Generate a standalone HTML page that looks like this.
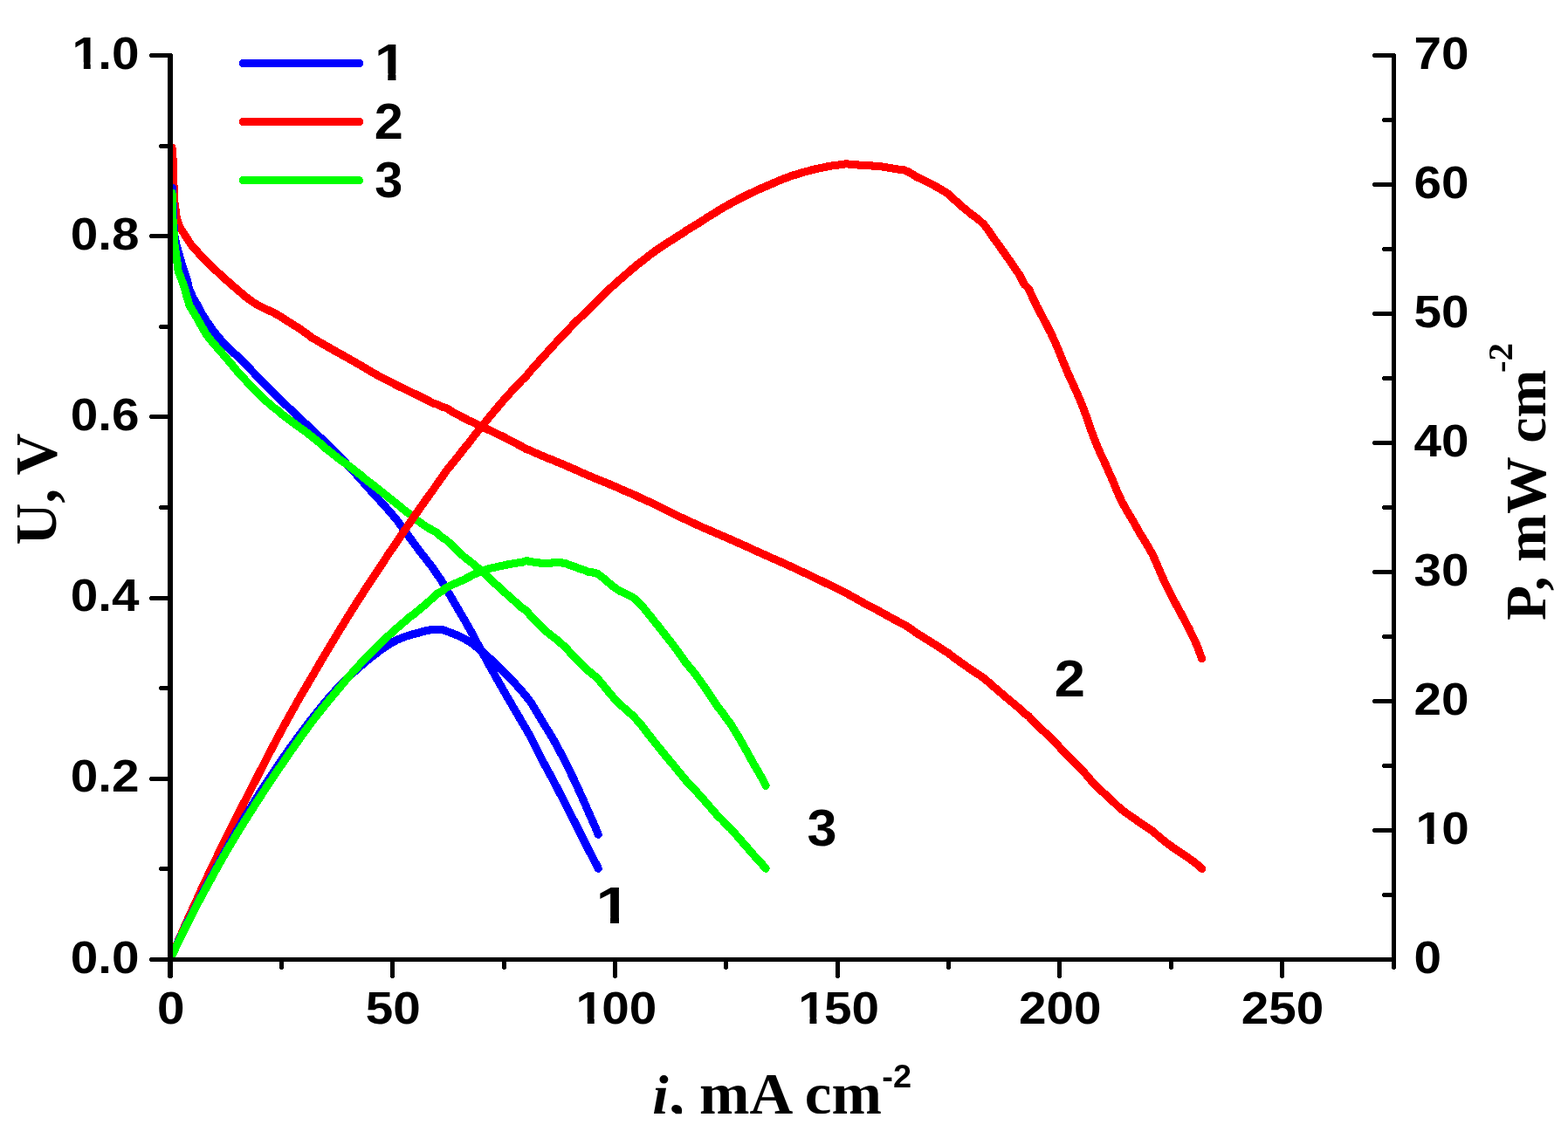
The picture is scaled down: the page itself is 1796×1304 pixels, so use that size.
<!DOCTYPE html>
<html lang="en"><head><meta charset="utf-8"><title>Polarization and power density curves</title>
<style>html,body{margin:0;padding:0;background:#fff;}body{width:1796px;height:1304px;overflow:hidden;}svg{display:block;}text{fill:#000;}</style>
</head><body>
<svg width="1796" height="1304" viewBox="0 0 1796 1304">
<defs>
<clipPath id="one"><path clip-rule="evenodd" d="M-10,-90 H400 V30 H-10 Z M-10,-14 H26.6 V8 H-10 Z M40.5,-14 H58 V8 H40.5 Z"/></clipPath>
<clipPath id="plot"><rect x="192.7" y="0" width="1403.1" height="1101.5"/></clipPath>
<clipPath id="xt"><rect x="700" y="1180" width="400" height="96.2"/></clipPath>
</defs>
<rect x="0" y="0" width="1796" height="1304" fill="#fff"/>
<g id="curves" clip-path="url(#plot)" fill="none" stroke-width="9.1" stroke-linecap="round" stroke-linejoin="round" shape-rendering="crispEdges">
<path stroke="#ff0000" d="M197.0,169.0 L198.0,182.0 L199.0,213.0 L199.7,230.4 L202.4,250.4 L206.0,260.5 L212.3,270.0 L218.6,280.0 L225.9,288.3 L230.9,293.8 L236.0,298.9 L241.1,304.0 L246.2,308.9 L251.3,313.7 L256.4,318.3 L261.5,322.9 L266.6,327.4 L271.7,331.8 L276.8,336.1 L281.9,340.4 L287.0,344.2 L292.0,347.7 L297.1,350.5 L302.2,353.2 L307.3,355.5 L312.4,357.7 L317.5,360.5 L322.6,363.6 L327.7,366.9 L332.8,370.1 L337.9,373.3 L343.0,376.6 L348.1,380.1 L353.2,383.8 L358.2,387.6 L363.3,390.3 L368.4,393.4 L373.5,396.3 L378.6,399.2 L383.7,402.1 L388.8,405.0 L393.9,407.8 L399.0,410.6 L404.1,413.6 L409.2,416.5 L414.3,419.4 L419.3,422.3 L424.4,425.5 L429.5,428.4 L434.6,431.3 L439.7,434.0 L444.8,436.3 L449.9,439.1 L455.0,441.7 L460.1,444.2 L465.2,446.7 L470.3,449.2 L475.4,451.5 L480.5,454.0 L485.5,456.5 L490.6,459.0 L495.7,461.9 L500.8,463.4 L505.9,466.0 L511.0,467.4 L516.1,470.6 L521.2,473.6 L526.3,476.3 L531.4,478.9 L536.5,481.6 L541.6,483.7 L546.6,486.3 L551.7,488.8 L556.8,491.2 L561.9,493.6 L567.0,496.0 L572.1,498.4 L577.2,500.8 L582.3,503.6 L587.4,506.1 L592.5,508.9 L597.6,511.5 L602.7,514.7 L607.8,516.4 L612.8,518.8 L617.9,521.0 L623.0,523.1 L628.1,525.3 L633.2,527.2 L638.3,529.5 L643.4,531.5 L648.5,533.7 L653.6,535.9 L658.7,538.1 L663.8,540.4 L668.9,542.7 L673.9,544.9 L679.0,547.0 L684.1,549.2 L689.2,551.2 L694.3,553.2 L699.4,555.4 L704.5,557.5 L709.6,559.7 L714.7,562.1 L719.8,564.2 L724.9,566.4 L730.0,568.7 L735.1,571.2 L740.1,573.5 L745.2,575.7 L750.3,578.2 L755.4,580.6 L760.5,583.2 L765.6,585.7 L770.7,588.3 L775.8,590.8 L780.9,593.3 L786.0,595.5 L791.1,597.9 L796.2,600.4 L801.2,602.7 L806.3,605.0 L811.4,607.1 L816.5,609.3 L821.6,611.5 L826.7,613.7 L831.8,615.9 L836.9,618.2 L842.0,620.4 L847.1,622.7 L852.2,625.0 L857.3,627.3 L862.4,629.6 L867.4,632.0 L872.5,634.3 L877.6,636.5 L882.7,638.8 L887.8,641.1 L892.9,643.3 L898.0,645.6 L903.1,647.9 L908.2,650.2 L913.3,652.7 L918.4,655.0 L923.5,657.4 L928.5,659.8 L933.6,662.3 L938.7,664.7 L943.8,667.2 L948.9,669.6 L954.0,672.1 L959.1,674.6 L964.2,677.2 L969.3,679.5 L974.4,682.6 L979.5,685.3 L984.6,688.3 L989.7,691.2 L994.7,693.7 L999.8,696.5 L1004.9,699.1 L1010.0,701.9 L1015.1,704.8 L1020.2,707.6 L1025.3,710.4 L1030.4,713.1 L1035.5,715.7 L1040.6,718.8 L1045.7,722.4 L1050.8,726.0 L1055.8,729.1 L1060.9,732.4 L1066.0,735.5 L1071.1,738.7 L1076.2,742.0 L1081.3,745.3 L1086.4,748.5 L1091.5,752.7 L1096.6,756.2 L1101.7,760.1 L1106.8,763.5 L1111.9,767.1 L1117.0,770.4 L1122.0,773.7 L1127.1,777.3 L1132.2,781.6 L1137.3,786.2 L1142.4,790.5 L1147.5,794.9 L1152.6,799.2 L1157.7,803.5 L1162.8,807.8 L1167.9,812.0 L1173.0,817.3 L1178.1,820.5 L1183.1,826.0 L1188.2,831.1 L1193.3,836.0 L1198.4,840.7 L1203.5,845.5 L1208.6,850.6 L1213.7,856.2 L1218.8,861.8 L1223.9,867.1 L1229.0,872.1 L1234.1,877.0 L1239.2,882.3 L1244.3,887.9 L1249.3,893.9 L1254.4,899.5 L1259.5,904.6 L1264.6,909.0 L1269.7,913.8 L1274.8,918.4 L1279.9,923.4 L1285.0,927.8 L1290.1,931.7 L1295.2,935.2 L1300.3,938.7 L1305.4,942.5 L1310.4,945.7 L1315.5,949.1 L1320.6,952.7 L1325.7,957.1 L1330.8,961.4 L1335.9,965.6 L1341.0,969.3 L1346.1,972.9 L1351.2,976.3 L1356.3,979.7 L1361.4,983.2 L1366.5,986.9 L1371.6,990.8 L1376.6,995.5"/>
<path stroke="#0000ff" d="M197.3,215.0 L198.3,240.0 L199.0,258.0 L199.9,270.0 L201.9,280.0 L204.8,290.1 L207.5,300.1 L210.8,310.2 L214.2,320.2 L216.3,330.3 L220.7,340.3 L225.9,349.2 L230.9,358.8 L236.0,367.0 L241.1,374.5 L246.2,381.4 L251.3,387.6 L256.4,393.3 L261.5,398.5 L266.6,403.6 L271.7,407.9 L276.8,412.8 L281.9,418.2 L287.0,423.4 L292.0,428.6 L297.1,434.1 L302.2,439.4 L307.3,444.6 L312.4,449.8 L317.5,454.3 L322.6,459.5 L327.7,464.3 L332.8,469.2 L337.9,474.0 L343.0,478.7 L348.1,483.7 L353.2,488.4 L358.2,493.1 L363.3,497.8 L368.4,502.8 L373.5,507.0 L378.6,512.1 L383.7,517.2 L388.8,522.4 L393.9,528.0 L399.0,533.6 L404.1,539.3 L409.2,544.9 L414.3,550.6 L419.3,556.2 L424.4,562.0 L429.5,567.5 L434.6,573.1 L439.7,578.8 L444.8,584.4 L449.9,590.4 L455.0,596.5 L460.1,603.6 L465.2,610.3 L470.3,617.4 L475.4,624.3 L480.5,631.3 L485.5,637.5 L490.6,644.3 L495.7,650.6 L500.8,658.3 L505.9,665.7 L511.0,674.6 L516.1,683.2 L521.2,692.0 L526.3,700.7 L531.4,709.3 L536.5,718.4 L541.6,727.3 L546.6,736.9 L551.7,746.2 L556.8,755.7 L561.9,764.8 L567.0,774.0 L572.1,783.1 L577.2,792.0 L582.3,800.8 L587.4,809.5 L592.5,818.2 L597.6,826.9 L602.7,835.6 L607.8,844.5 L612.8,854.5 L617.9,864.7 L623.0,874.6 L628.1,884.0 L633.2,893.3 L638.3,903.2 L643.4,913.0 L648.5,922.9 L653.6,933.0 L658.7,943.0 L663.8,953.2 L668.9,963.2 L673.9,973.3 L679.0,983.0 L684.1,992.7 L685.2,995.2"/>
<path stroke="#00ff00" d="M197.0,221.0 L197.6,245.0 L198.5,260.0 L199.4,270.0 L199.9,280.0 L201.4,290.1 L202.9,300.1 L204.1,310.2 L207.9,320.2 L211.6,330.3 L214.1,340.3 L217.2,350.4 L223.2,360.4 L225.9,364.9 L230.9,373.9 L236.0,382.6 L241.1,389.4 L246.2,395.5 L251.3,401.2 L256.4,407.1 L261.5,413.0 L266.6,419.1 L271.7,425.3 L276.8,431.0 L281.9,436.4 L287.0,442.3 L292.0,447.1 L297.1,452.4 L302.2,457.1 L307.3,461.7 L312.4,466.3 L317.5,469.7 L322.6,474.5 L327.7,478.3 L332.8,482.1 L337.9,486.0 L343.0,489.7 L348.1,493.2 L353.2,497.1 L358.2,501.1 L363.3,505.2 L368.4,509.5 L373.5,514.1 L378.6,518.1 L383.7,522.2 L388.8,526.2 L393.9,529.7 L399.0,533.4 L404.1,537.4 L409.2,541.3 L414.3,545.2 L419.3,549.8 L424.4,553.4 L429.5,557.5 L434.6,561.5 L439.7,565.5 L444.8,569.8 L449.9,573.7 L455.0,577.8 L460.1,582.0 L465.2,586.2 L470.3,589.7 L475.4,594.7 L480.5,598.0 L485.5,601.7 L490.6,605.0 L495.7,607.7 L500.8,610.6 L505.9,615.4 L511.0,618.6 L516.1,623.4 L521.2,628.2 L526.3,633.2 L531.4,637.9 L536.5,641.9 L541.6,645.8 L546.6,650.1 L551.7,654.3 L556.8,659.0 L561.9,663.6 L567.0,668.7 L572.1,673.2 L577.2,678.0 L582.3,682.5 L587.4,687.1 L592.5,691.6 L597.6,696.2 L602.7,699.7 L607.8,705.5 L612.8,711.0 L617.9,716.2 L623.0,721.3 L628.1,725.4 L633.2,729.5 L638.3,733.4 L643.4,737.9 L648.5,742.7 L653.6,748.3 L658.7,753.4 L663.8,758.7 L668.9,763.5 L673.9,768.6 L679.0,772.7 L684.1,777.0 L689.2,783.0 L694.3,789.2 L699.4,795.6 L704.5,801.3 L709.6,806.7 L714.7,811.1 L719.8,815.6 L724.9,820.1 L730.0,825.6 L735.1,831.5 L740.1,838.2 L745.2,844.6 L750.3,851.2 L755.4,857.4 L760.5,863.8 L765.6,869.9 L770.7,876.0 L775.8,882.2 L780.9,888.3 L786.0,894.6 L791.1,899.8 L796.2,905.2 L801.2,911.1 L806.3,916.7 L811.4,922.6 L816.5,928.4 L821.6,934.3 L826.7,939.2 L831.8,944.6 L836.9,949.4 L842.0,955.3 L847.1,961.0 L852.2,967.0 L857.3,972.9 L862.4,978.8 L867.4,984.3 L872.5,989.8 L877.1,995.3"/>
<path stroke="#ff0000" d="M196.3,1096.7 L197.0,1095.0 L198.0,1092.5 L199.0,1090.2 L199.7,1088.7 L202.4,1082.5 L206.0,1074.2 L212.3,1059.8 L218.6,1045.7 L225.9,1029.9 L230.9,1018.8 L236.0,1007.9 L241.1,997.1 L246.2,986.5 L251.3,975.9 L256.4,965.5 L261.5,955.2 L266.6,945.0 L271.7,934.9 L276.8,924.9 L281.9,915.1 L287.0,905.2 L292.0,895.4 L297.1,885.4 L302.2,875.5 L307.3,865.6 L312.4,855.7 L317.5,846.1 L322.6,836.6 L327.7,827.3 L332.8,818.1 L337.9,809.0 L343.0,799.9 L348.1,791.1 L353.2,782.5 L358.2,774.0 L363.3,765.1 L368.4,756.5 L373.5,747.8 L378.6,739.3 L383.7,730.8 L388.8,722.4 L393.9,714.1 L399.0,705.8 L404.1,697.7 L409.2,689.6 L414.3,681.7 L419.3,673.8 L424.4,666.2 L429.5,658.4 L434.6,650.8 L439.7,643.1 L444.8,635.2 L449.9,627.8 L455.0,620.2 L460.1,612.7 L465.2,605.2 L470.3,597.8 L475.4,590.3 L480.5,583.1 L485.5,575.9 L490.6,568.8 L495.7,562.0 L500.8,554.3 L505.9,547.4 L511.0,539.7 L516.1,533.5 L521.2,527.2 L526.3,520.8 L531.4,514.3 L536.5,508.1 L541.6,501.3 L546.6,495.0 L551.7,488.8 L556.8,482.5 L561.9,476.3 L567.0,470.2 L572.1,464.1 L577.2,458.0 L582.3,452.5 L587.4,446.8 L592.5,441.5 L597.6,435.9 L602.7,431.1 L607.8,424.8 L612.8,419.3 L617.9,413.5 L623.0,407.8 L628.1,402.3 L633.2,396.5 L638.3,391.1 L643.4,385.5 L648.5,380.2 L653.6,374.9 L658.7,369.7 L663.8,364.7 L668.9,359.8 L673.9,354.7 L679.0,349.8 L684.1,344.8 L689.2,339.8 L694.3,334.8 L699.4,330.0 L704.5,325.3 L709.6,320.7 L714.7,316.5 L719.8,311.9 L724.9,307.6 L730.0,303.3 L735.1,299.5 L740.1,295.5 L745.2,291.4 L750.3,287.8 L755.4,284.1 L760.5,280.9 L765.6,277.4 L770.7,274.3 L775.8,271.0 L780.9,267.9 L786.0,264.3 L791.1,261.1 L796.2,258.2 L801.2,255.0 L806.3,251.8 L811.4,248.3 L816.5,245.3 L821.6,242.1 L826.7,239.0 L831.8,236.0 L836.9,233.3 L842.0,230.4 L847.1,227.7 L852.2,225.2 L857.3,222.6 L862.4,220.2 L867.4,217.9 L872.5,215.6 L877.6,213.4 L882.7,211.2 L887.8,209.0 L892.9,206.8 L898.0,204.7 L903.1,202.8 L908.2,201.0 L913.3,199.6 L918.4,197.9 L923.5,196.5 L928.5,195.2 L933.6,193.9 L938.7,192.8 L943.8,191.7 L948.9,190.6 L954.0,189.8 L959.1,189.1 L964.2,188.7 L969.3,187.7 L974.4,188.5 L979.5,188.5 L984.6,189.2 L989.7,189.8 L994.7,189.5 L999.8,190.1 L1004.9,190.2 L1010.0,190.9 L1015.1,191.8 L1020.2,192.6 L1025.3,193.5 L1030.4,194.3 L1035.5,194.9 L1040.6,196.9 L1045.7,200.0 L1050.8,203.2 L1055.8,205.4 L1060.9,208.1 L1066.0,210.6 L1071.1,213.2 L1076.2,216.0 L1081.3,219.2 L1086.4,222.2 L1091.5,227.6 L1096.6,231.6 L1101.7,236.6 L1106.8,240.6 L1111.9,245.0 L1117.0,248.6 L1122.0,252.6 L1127.1,257.4 L1132.2,264.0 L1137.3,271.8 L1142.4,278.6 L1147.5,285.9 L1152.6,293.0 L1157.7,300.3 L1162.8,308.0 L1167.9,315.1 L1173.0,325.6 L1178.1,330.5 L1183.1,341.7 L1188.2,352.1 L1193.3,361.9 L1198.4,371.3 L1203.5,381.3 L1208.6,392.2 L1213.7,404.4 L1218.8,417.0 L1223.9,429.2 L1229.0,440.2 L1234.1,451.4 L1239.2,463.7 L1244.3,477.0 L1249.3,491.7 L1254.4,505.3 L1259.5,517.6 L1264.6,528.2 L1269.7,540.0 L1274.8,551.3 L1279.9,563.8 L1285.0,574.9 L1290.1,584.2 L1295.2,592.6 L1300.3,601.3 L1305.4,610.6 L1310.4,618.6 L1315.5,627.1 L1320.6,636.2 L1325.7,648.0 L1330.8,659.9 L1335.9,671.1 L1341.0,681.2 L1346.1,690.9 L1351.2,700.1 L1356.3,709.7 L1361.4,719.4 L1366.5,729.8 L1371.6,740.9 L1376.6,754.9"/>
<path stroke="#0000ff" d="M196.3,1096.9 L197.3,1094.4 L198.3,1092.2 L199.0,1090.7 L199.9,1088.7 L201.9,1084.2 L204.8,1077.8 L207.5,1072.0 L210.8,1065.1 L214.2,1058.1 L216.3,1054.1 L220.7,1045.3 L225.9,1035.1 L230.9,1025.3 L236.0,1015.7 L241.1,1006.2 L246.2,996.8 L251.3,987.5 L256.4,978.4 L261.5,969.2 L266.6,960.2 L271.7,951.2 L276.8,942.5 L281.9,934.0 L287.0,925.6 L292.0,917.3 L297.1,909.3 L302.2,901.4 L307.3,893.6 L312.4,886.0 L317.5,878.2 L322.6,870.9 L327.7,863.5 L332.8,856.3 L337.9,849.2 L343.0,842.3 L348.1,835.5 L353.2,828.8 L358.2,822.2 L363.3,815.8 L368.4,809.6 L373.5,803.2 L378.6,797.4 L383.7,791.7 L388.8,786.1 L393.9,781.0 L399.0,776.1 L404.1,771.3 L409.2,766.7 L414.3,762.3 L419.3,758.0 L424.4,753.9 L429.5,749.9 L434.6,746.0 L439.7,742.4 L444.8,738.9 L449.9,735.9 L455.0,733.0 L460.1,731.1 L465.2,729.1 L470.3,727.5 L475.4,726.1 L480.5,724.9 L485.5,723.3 L490.6,722.3 L495.7,721.1 L500.8,721.3 L505.9,721.4 L511.0,723.1 L516.1,724.9 L521.2,726.9 L526.3,729.2 L531.4,731.6 L536.5,734.7 L541.6,738.0 L546.6,742.1 L551.7,746.2 L556.8,750.7 L561.9,755.2 L567.0,760.1 L572.1,765.0 L577.2,770.0 L582.3,775.3 L587.4,780.5 L592.5,786.1 L597.6,791.8 L602.7,797.9 L607.8,804.5 L612.8,812.5 L617.9,821.1 L623.0,829.7 L628.1,837.8 L633.2,846.2 L638.3,855.6 L643.4,865.1 L648.5,875.0 L653.6,885.5 L658.7,896.1 L663.8,907.2 L668.9,918.4 L673.9,930.1 L679.0,941.4 L684.1,953.1 L685.2,956.2"/>
<path stroke="#00ff00" d="M196.3,1096.9 L197.0,1095.2 L197.6,1093.9 L198.5,1091.9 L199.4,1089.9 L199.9,1088.8 L201.4,1085.5 L202.9,1082.4 L204.1,1079.9 L207.9,1071.9 L211.6,1064.2 L214.1,1059.4 L217.2,1053.4 L223.2,1041.6 L225.9,1036.4 L230.9,1026.9 L236.0,1017.5 L241.1,1008.1 L246.2,998.8 L251.3,989.7 L256.4,980.7 L261.5,971.9 L266.6,963.3 L271.7,954.9 L276.8,946.6 L281.9,938.4 L287.0,930.4 L292.0,922.4 L297.1,914.5 L302.2,906.7 L307.3,899.0 L312.4,891.4 L317.5,883.5 L322.6,876.2 L327.7,868.7 L332.8,861.3 L337.9,854.0 L343.0,846.8 L348.1,839.6 L353.2,832.7 L358.2,825.9 L363.3,819.3 L368.4,812.9 L373.5,806.7 L378.6,800.4 L383.7,794.3 L388.8,788.2 L393.9,782.0 L399.0,776.0 L404.1,770.2 L409.2,764.5 L414.3,759.0 L419.3,754.0 L424.4,748.4 L429.5,743.3 L434.6,738.2 L439.7,733.3 L444.8,728.6 L449.9,723.9 L455.0,719.4 L460.1,715.0 L465.2,710.9 L470.3,706.2 L475.4,702.8 L480.5,698.3 L485.5,694.2 L490.6,689.8 L495.7,685.0 L500.8,680.4 L505.9,677.6 L511.0,673.5 L516.1,671.0 L521.2,668.6 L526.3,666.5 L531.4,664.2 L536.5,661.5 L541.6,658.8 L546.6,656.5 L551.7,654.3 L556.8,652.7 L561.9,651.1 L567.0,650.2 L572.1,648.9 L577.2,647.9 L582.3,646.7 L587.4,645.8 L592.5,645.0 L597.6,644.4 L602.7,642.6 L607.8,643.5 L612.8,644.4 L617.9,645.0 L623.0,645.6 L628.1,645.3 L633.2,644.9 L638.3,644.5 L643.4,644.9 L648.5,645.9 L653.6,648.0 L658.7,649.6 L663.8,651.6 L668.9,653.1 L673.9,655.2 L679.0,656.0 L684.1,657.3 L689.2,660.9 L694.3,665.1 L699.4,669.7 L704.5,673.6 L709.6,677.1 L714.7,679.3 L719.8,681.8 L724.9,684.5 L730.0,688.6 L735.1,693.7 L740.1,700.1 L745.2,706.3 L750.3,712.9 L755.4,719.1 L760.5,725.7 L765.6,732.2 L770.7,738.7 L775.8,745.6 L780.9,752.7 L786.0,760.0 L791.1,765.9 L796.2,772.1 L801.2,779.2 L806.3,786.2 L811.4,793.7 L816.5,801.3 L821.6,809.3 L826.7,815.5 L831.8,822.9 L836.9,829.4 L842.0,837.9 L847.1,846.3 L852.2,855.4 L857.3,864.5 L862.4,873.8 L867.4,882.3 L872.5,891.2 L877.1,900.4"/>
</g>
<g id="legend" stroke-width="9.1" stroke-linecap="round" shape-rendering="crispEdges">
<line x1="278.3" y1="72.5" x2="411.5" y2="72.5" stroke="#0000ff"/>
<line x1="278.3" y1="139.5" x2="411.5" y2="139.5" stroke="#ff0000"/>
<line x1="278.3" y1="206.6" x2="411.5" y2="206.6" stroke="#00ff00"/>
</g>
<g id="axes" stroke="#000" fill="none" stroke-linecap="round" shape-rendering="crispEdges">
<line x1="173.5" y1="1099.5" x2="195" y2="1099.5" stroke-width="5"/>
<line x1="184.5" y1="995.5" x2="195" y2="995.5" stroke-width="5"/>
<line x1="173.5" y1="892.5" x2="195" y2="892.5" stroke-width="5"/>
<line x1="184.5" y1="788.5" x2="195" y2="788.5" stroke-width="5"/>
<line x1="173.5" y1="685.5" x2="195" y2="685.5" stroke-width="5"/>
<line x1="184.5" y1="581.5" x2="195" y2="581.5" stroke-width="5"/>
<line x1="173.5" y1="477.5" x2="195" y2="477.5" stroke-width="5"/>
<line x1="184.5" y1="374.5" x2="195" y2="374.5" stroke-width="5"/>
<line x1="173.5" y1="270.5" x2="195" y2="270.5" stroke-width="5"/>
<line x1="184.5" y1="167.5" x2="195" y2="167.5" stroke-width="5"/>
<line x1="173.5" y1="63.5" x2="195" y2="63.5" stroke-width="5"/>
<line x1="1574.5" y1="1099.5" x2="1596.5" y2="1099.5" stroke-width="5"/>
<line x1="1585.5" y1="1025.5" x2="1596.5" y2="1025.5" stroke-width="5"/>
<line x1="1574.5" y1="951.5" x2="1596.5" y2="951.5" stroke-width="5"/>
<line x1="1585.5" y1="877.5" x2="1596.5" y2="877.5" stroke-width="5"/>
<line x1="1574.5" y1="803.5" x2="1596.5" y2="803.5" stroke-width="5"/>
<line x1="1585.5" y1="729.5" x2="1596.5" y2="729.5" stroke-width="5"/>
<line x1="1574.5" y1="655.5" x2="1596.5" y2="655.5" stroke-width="5"/>
<line x1="1585.5" y1="581.5" x2="1596.5" y2="581.5" stroke-width="5"/>
<line x1="1574.5" y1="507.5" x2="1596.5" y2="507.5" stroke-width="5"/>
<line x1="1585.5" y1="433.5" x2="1596.5" y2="433.5" stroke-width="5"/>
<line x1="1574.5" y1="359.5" x2="1596.5" y2="359.5" stroke-width="5"/>
<line x1="1585.5" y1="285.5" x2="1596.5" y2="285.5" stroke-width="5"/>
<line x1="1574.5" y1="211.5" x2="1596.5" y2="211.5" stroke-width="5"/>
<line x1="1585.5" y1="137.5" x2="1596.5" y2="137.5" stroke-width="5"/>
<line x1="1574.5" y1="63.5" x2="1596.5" y2="63.5" stroke-width="5"/>
<line x1="322.5" y1="1099.5" x2="322.5" y2="1108.5" stroke-width="5"/>
<line x1="449.5" y1="1099.5" x2="449.5" y2="1118.5" stroke-width="5"/>
<line x1="577.5" y1="1099.5" x2="577.5" y2="1108.5" stroke-width="5"/>
<line x1="704.5" y1="1099.5" x2="704.5" y2="1118.5" stroke-width="5"/>
<line x1="831.5" y1="1099.5" x2="831.5" y2="1108.5" stroke-width="5"/>
<line x1="959.5" y1="1099.5" x2="959.5" y2="1118.5" stroke-width="5"/>
<line x1="1086.5" y1="1099.5" x2="1086.5" y2="1108.5" stroke-width="5"/>
<line x1="1213.5" y1="1099.5" x2="1213.5" y2="1118.5" stroke-width="5"/>
<line x1="1341.5" y1="1099.5" x2="1341.5" y2="1108.5" stroke-width="5"/>
<line x1="1468.5" y1="1099.5" x2="1468.5" y2="1118.5" stroke-width="5"/>
<line x1="195" y1="64" x2="195" y2="1118" stroke-width="6"/>
<line x1="1596.5" y1="63.5" x2="1596.5" y2="1108.5" stroke-width="5"/>
<line x1="173.5" y1="1099.5" x2="1596.5" y2="1099.5" stroke-width="5"/>
</g>
<g id="ticklabels">
<text transform="matrix(0.5668 0 0 0.5240 80.75 1114.60)" font-family="'Liberation Sans', Arial, Helvetica, sans-serif" font-weight="bold" font-size="100">0.0</text>
<text transform="matrix(0.5668 0 0 0.5240 80.75 907.40)" font-family="'Liberation Sans', Arial, Helvetica, sans-serif" font-weight="bold" font-size="100">0.2</text>
<text transform="matrix(0.5668 0 0 0.5240 80.75 700.20)" font-family="'Liberation Sans', Arial, Helvetica, sans-serif" font-weight="bold" font-size="100">0.4</text>
<text transform="matrix(0.5668 0 0 0.5240 80.75 493.00)" font-family="'Liberation Sans', Arial, Helvetica, sans-serif" font-weight="bold" font-size="100">0.6</text>
<text transform="matrix(0.5668 0 0 0.5240 80.75 285.80)" font-family="'Liberation Sans', Arial, Helvetica, sans-serif" font-weight="bold" font-size="100">0.8</text>
<text transform="matrix(0.5668 0 0 0.5240 80.75 78.60)" font-family="'Liberation Sans', Arial, Helvetica, sans-serif" font-weight="bold" font-size="100" clip-path="url(#one)"><tspan dx="3.3">1</tspan><tspan dx="-3.3">.0</tspan></text>
<text transform="matrix(0.5668 0 0 0.5240 1619.60 1114.60)" font-family="'Liberation Sans', Arial, Helvetica, sans-serif" font-weight="bold" font-size="100">0</text>
<text transform="matrix(0.5668 0 0 0.5240 1619.60 966.60)" font-family="'Liberation Sans', Arial, Helvetica, sans-serif" font-weight="bold" font-size="100" clip-path="url(#one)"><tspan dx="3.3">1</tspan><tspan dx="-3.3">0</tspan></text>
<text transform="matrix(0.5668 0 0 0.5240 1619.60 818.60)" font-family="'Liberation Sans', Arial, Helvetica, sans-serif" font-weight="bold" font-size="100">20</text>
<text transform="matrix(0.5668 0 0 0.5240 1619.60 670.60)" font-family="'Liberation Sans', Arial, Helvetica, sans-serif" font-weight="bold" font-size="100">30</text>
<text transform="matrix(0.5668 0 0 0.5240 1619.60 522.60)" font-family="'Liberation Sans', Arial, Helvetica, sans-serif" font-weight="bold" font-size="100">40</text>
<text transform="matrix(0.5668 0 0 0.5240 1619.60 374.60)" font-family="'Liberation Sans', Arial, Helvetica, sans-serif" font-weight="bold" font-size="100">50</text>
<text transform="matrix(0.5668 0 0 0.5240 1619.60 226.60)" font-family="'Liberation Sans', Arial, Helvetica, sans-serif" font-weight="bold" font-size="100">60</text>
<text transform="matrix(0.5668 0 0 0.5240 1619.60 78.60)" font-family="'Liberation Sans', Arial, Helvetica, sans-serif" font-weight="bold" font-size="100">70</text>
<text transform="matrix(0.5668 0 0 0.5240 179.94 1172.90)" font-family="'Liberation Sans', Arial, Helvetica, sans-serif" font-weight="bold" font-size="100">0</text>
<text transform="matrix(0.5668 0 0 0.5240 418.85 1172.90)" font-family="'Liberation Sans', Arial, Helvetica, sans-serif" font-weight="bold" font-size="100">50</text>
<text transform="matrix(0.5668 0 0 0.5240 657.75 1172.90)" font-family="'Liberation Sans', Arial, Helvetica, sans-serif" font-weight="bold" font-size="100" clip-path="url(#one)"><tspan dx="3.3">1</tspan><tspan dx="-3.3">00</tspan></text>
<text transform="matrix(0.5668 0 0 0.5240 912.41 1172.90)" font-family="'Liberation Sans', Arial, Helvetica, sans-serif" font-weight="bold" font-size="100" clip-path="url(#one)"><tspan dx="3.3">1</tspan><tspan dx="-3.3">50</tspan></text>
<text transform="matrix(0.5668 0 0 0.5240 1167.07 1172.90)" font-family="'Liberation Sans', Arial, Helvetica, sans-serif" font-weight="bold" font-size="100">200</text>
<text transform="matrix(0.5668 0 0 0.5240 1421.73 1172.90)" font-family="'Liberation Sans', Arial, Helvetica, sans-serif" font-weight="bold" font-size="100">250</text>
</g>
<g id="labels">
<text transform="matrix(0.6567 0 0 0.5833 426.84 92.15)" font-family="'Liberation Sans', Arial, Helvetica, sans-serif" font-weight="bold" font-size="100" clip-path="url(#one)"><tspan dx="3.3">1</tspan></text>
<text transform="matrix(0.5938 0 0 0.5700 428.82 159.00)" font-family="'Liberation Sans', Arial, Helvetica, sans-serif" font-weight="bold" font-size="100">2</text>
<text transform="matrix(0.5758 0 0 0.5648 429.36 225.54)" font-family="'Liberation Sans', Arial, Helvetica, sans-serif" font-weight="bold" font-size="100">3</text>
<text transform="matrix(0.7133 0 0 0.5957 680.10 1058.10)" font-family="'Liberation Sans', Arial, Helvetica, sans-serif" font-weight="bold" font-size="100" clip-path="url(#one)"><tspan dx="3.3">1</tspan></text>
<text transform="matrix(0.6333 0 0 0.5907 1207.68 798.05)" font-family="'Liberation Sans', Arial, Helvetica, sans-serif" font-weight="bold" font-size="100">2</text>
<text transform="matrix(0.6121 0 0 0.5915 924.47 968.51)" font-family="'Liberation Sans', Arial, Helvetica, sans-serif" font-weight="bold" font-size="100">3</text>
</g>
<g id="titles">
<text transform="matrix(0 -0.6650 0.6690 0 63.8 624.6)" font-family="'Liberation Serif', 'Times New Roman', Times, serif" font-weight="bold" font-size="100">U, V</text>
<text transform="matrix(0 -0.6590 0.6560 0 1770 711.1)" font-family="'Liberation Serif', 'Times New Roman', Times, serif" font-weight="bold" font-size="100">P, mW cm<tspan font-size="62" dx="-5" dy="-57.6">-2</tspan></text>
<g clip-path="url(#xt)"><text transform="matrix(0.6900 0 0 0.6700 747.17 1275.7)" font-family="'Liberation Serif', 'Times New Roman', Times, serif" font-weight="bold" font-size="100"><tspan font-style="italic" font-size="96">i</tspan><tspan dx="1.5">, mA cm</tspan><tspan font-family="'Liberation Sans', Arial, Helvetica, sans-serif" font-size="55" dx="0.5" dy="-43.7">-2</tspan></text></g>
</g>
</svg>
</body></html>
